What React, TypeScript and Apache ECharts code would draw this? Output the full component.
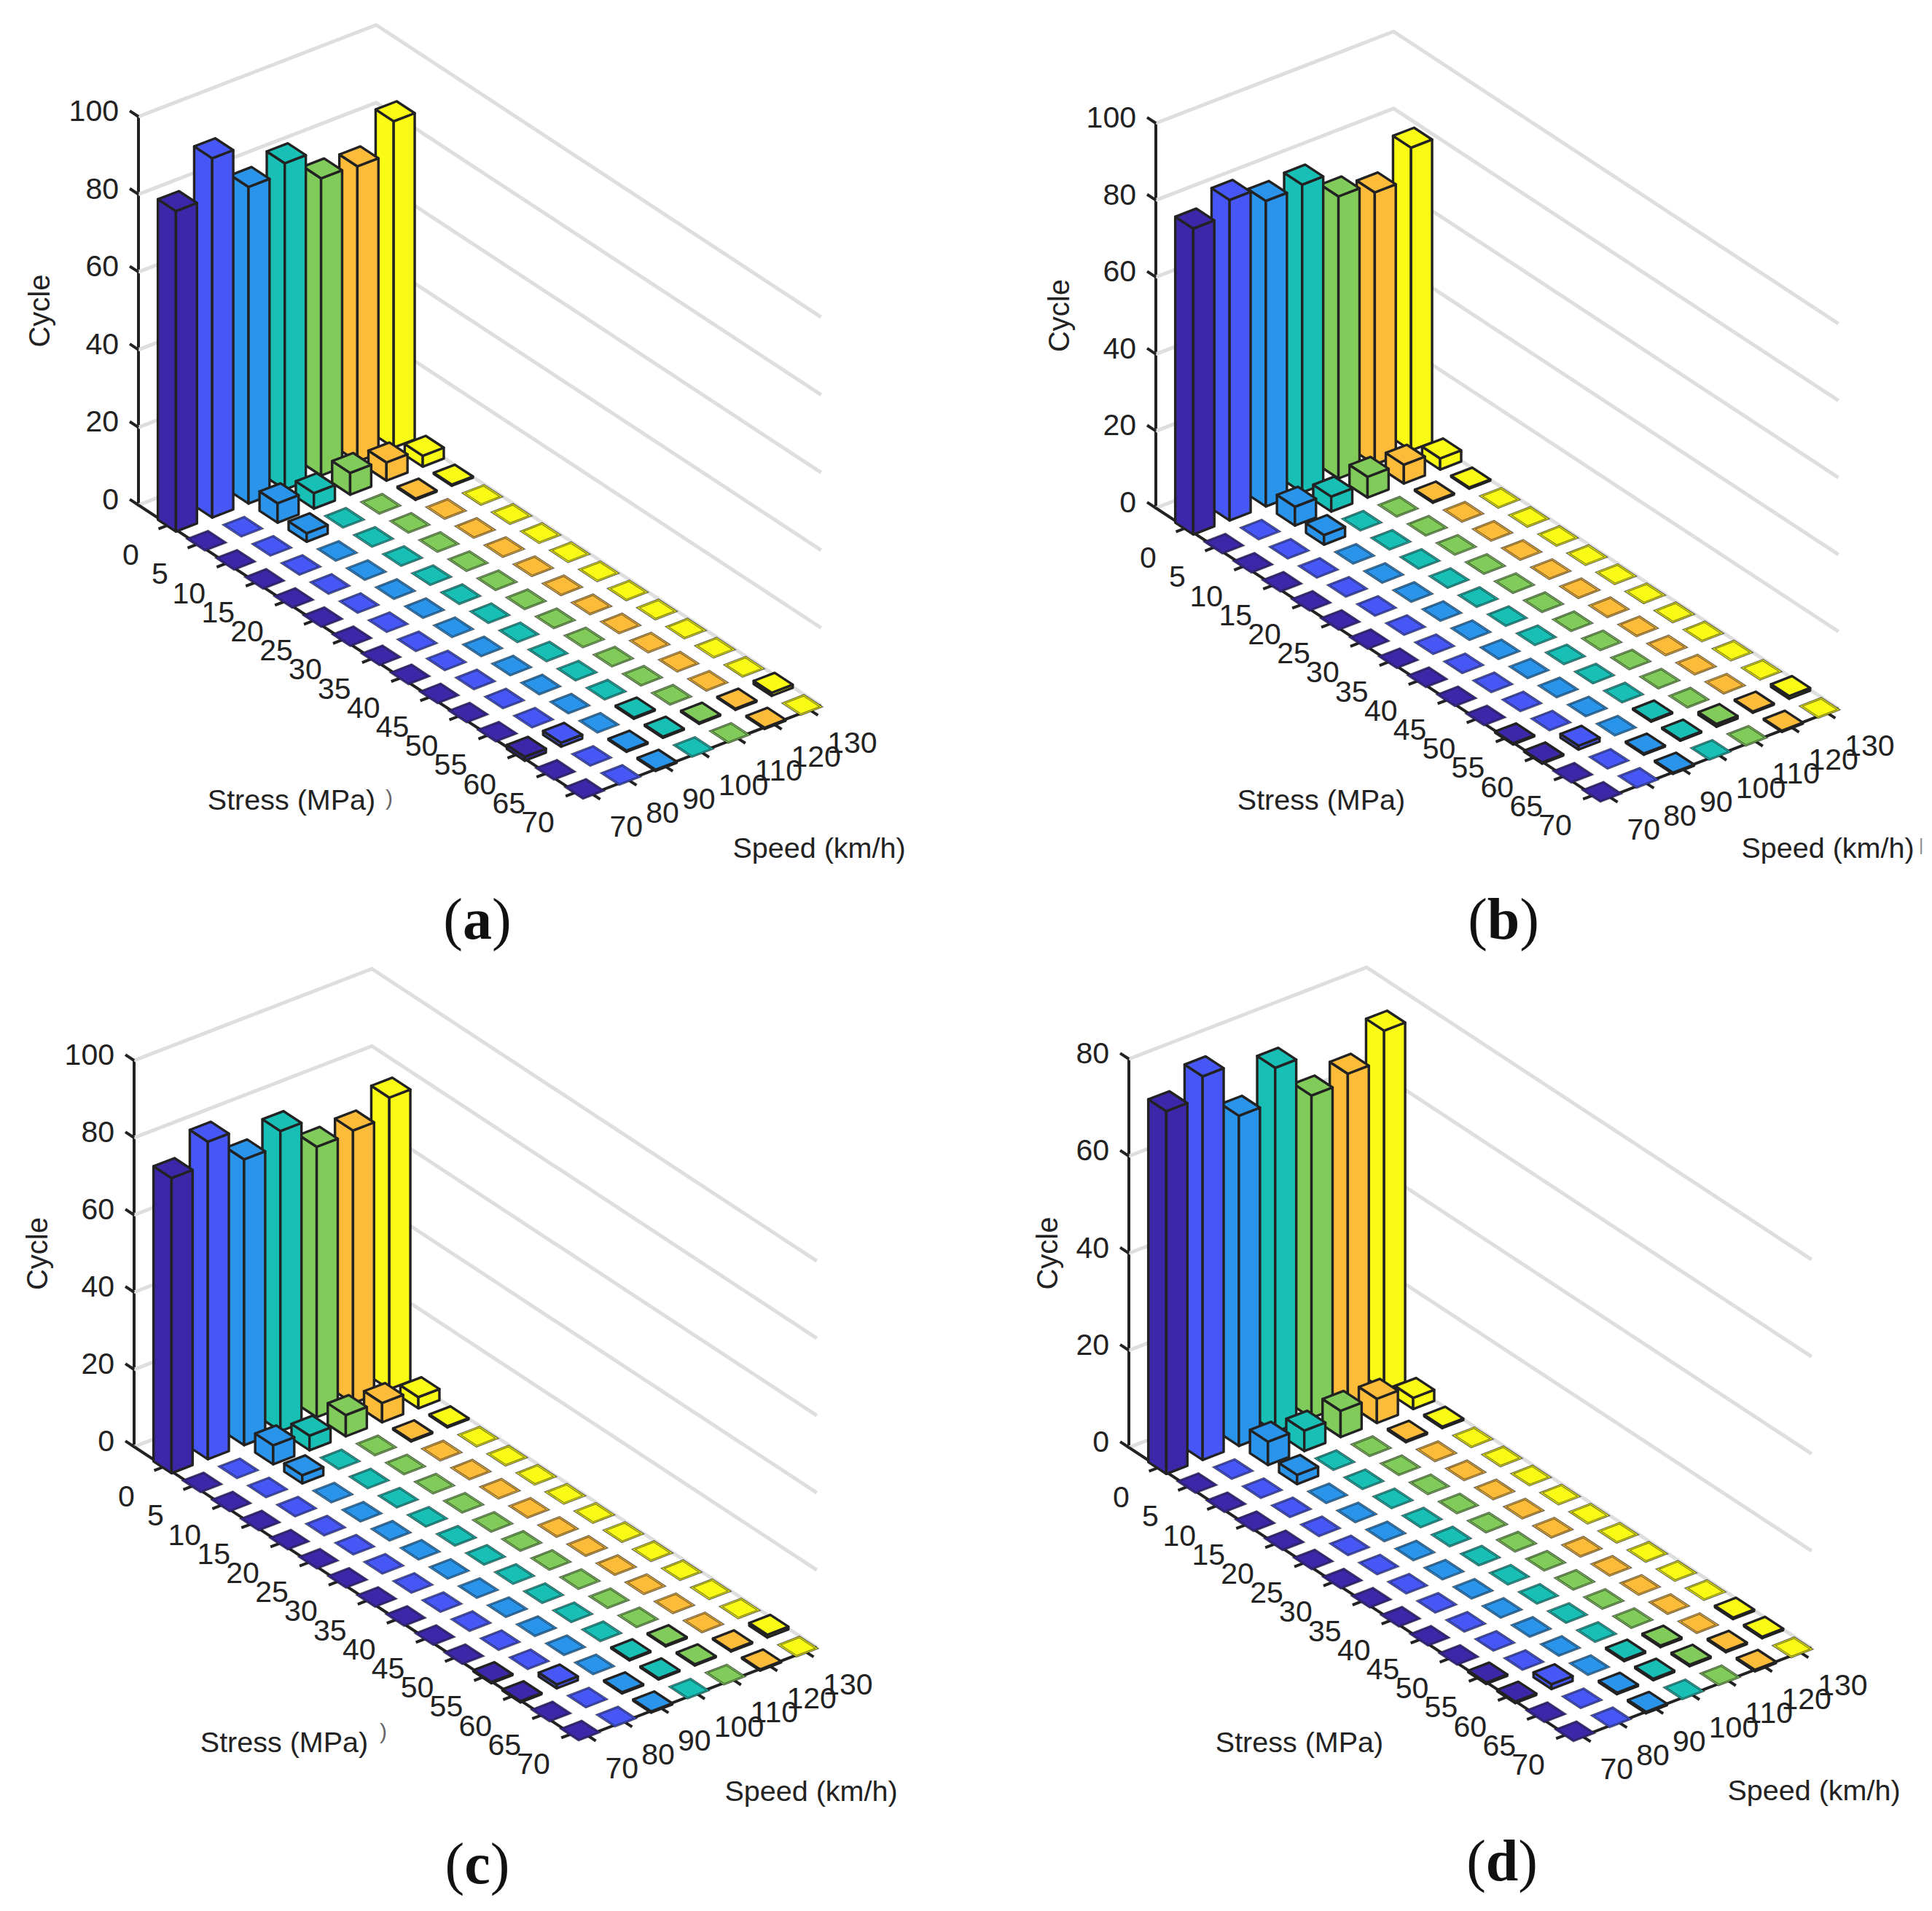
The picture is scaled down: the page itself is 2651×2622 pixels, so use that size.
import { useEffect, useRef } from "react"
import * as echarts from "echarts"

const stressLabels = ["0", "5", "10", "15", "20", "25", "30", "35", "40", "45", "50", "55", "60", "65", "70"]
const speedLabels = ["70", "80", "90", "100", "110", "120", "130"]
const speedColors = ["#3b27a7", "#4757f6", "#2a94ea", "#18bfb5", "#80cb5a", "#fdbb3a", "#f9fb14"]
const ticks100 = [0, 20, 40, 60, 80, 100]
const ticks80 = [0, 20, 40, 60, 80]

// rows = stress, columns = speed
const cyclesA = [
  [82.5, 92.5, 81.5, 84, 76.5, 76, 84],
  [0, 0, 5, 4, 5.6, 4.7, 2.8],
  [0, 0, 2.2, 0, 0, 0.3, 0.3],
  [0, 0, 0, 0, 0, 0, 0],
  [0, 0, 0, 0, 0, 0, 0],
  [0, 0, 0, 0, 0, 0, 0],
  [0, 0, 0, 0, 0, 0, 0],
  [0, 0, 0, 0, 0, 0, 0],
  [0, 0, 0, 0, 0, 0, 0],
  [0, 0, 0, 0, 0, 0, 0],
  [0, 0, 0, 0, 0, 0, 0],
  [0, 0, 0, 0, 0, 0, 0],
  [1, 1, 0, 0.3, 0, 0, 0],
  [0, 0, 0.3, 0.3, 0.3, 0.3, 0.8],
  [0, 0, 0.3, 0, 0, 0.3, 0],
]
const cyclesB = [
  [79.5, 83.3, 79.4, 80, 73.3, 70.7, 78.7],
  [0, 0, 4.9, 3.9, 5.4, 4.9, 2.9],
  [0, 0, 2.5, 0, 0, 0.3, 0.3],
  [0, 0, 0, 0, 0, 0, 0],
  [0, 0, 0, 0, 0, 0, 0],
  [0, 0, 0, 0, 0, 0, 0],
  [0, 0, 0, 0, 0, 0, 0],
  [0, 0, 0, 0, 0, 0, 0],
  [0, 0, 0, 0, 0, 0, 0],
  [0, 0, 0, 0, 0, 0, 0],
  [0, 0, 0, 0, 0, 0, 0],
  [0.3, 0, 0, 0, 0, 0, 0],
  [0.3, 1, 0, 0.3, 0, 0, 0],
  [0, 0, 0.3, 0.3, 0.7, 0.3, 0.7],
  [0, 0, 0.3, 0, 0, 0.3, 0],
]
const cyclesC = [
  [76.4, 82.2, 74, 77.7, 70, 70.6, 75.5],
  [0, 0, 4.9, 3.8, 5.5, 5, 2.9],
  [0, 0, 2.1, 0, 0, 0.3, 0.3],
  [0, 0, 0, 0, 0, 0, 0],
  [0, 0, 0, 0, 0, 0, 0],
  [0, 0, 0, 0, 0, 0, 0],
  [0, 0, 0, 0, 0, 0, 0],
  [0, 0, 0, 0, 0, 0, 0],
  [0, 0, 0, 0, 0, 0, 0],
  [0, 0, 0, 0, 0, 0, 0],
  [0, 0, 0, 0, 0, 0, 0],
  [0.3, 0, 0, 0, 0, 0, 0],
  [0.3, 1, 0, 0.3, 0.3, 0, 0],
  [0, 0, 0.3, 0.3, 0.3, 0.3, 0.7],
  [0, 0, 0.3, 0, 0, 0.3, 0],
]
const cyclesD = [
  [74.7, 79, 68, 75, 66.4, 68, 74],
  [0, 0, 4.8, 4.2, 5.4, 5, 2.3],
  [0, 0, 1.9, 0, 0, 0.3, 0.3],
  [0, 0, 0, 0, 0, 0, 0],
  [0, 0, 0, 0, 0, 0, 0],
  [0, 0, 0, 0, 0, 0, 0],
  [0, 0, 0, 0, 0, 0, 0],
  [0, 0, 0, 0, 0, 0, 0],
  [0, 0, 0, 0, 0, 0, 0],
  [0, 0, 0, 0, 0, 0, 0],
  [0, 0, 0, 0, 0, 0, 0],
  [0.3, 0, 0, 0, 0, 0, 0],
  [0.3, 1, 0, 0.3, 0.3, 0, 0.3],
  [0, 0, 0.3, 0.3, 0.3, 0.3, 0.3],
  [0, 0, 0.3, 0, 0, 0.3, 0],
]

type Panel = {
  letter: string
  cycles: number[][]
  ticks: number[]
  left: number
  base: number
  zPx: number
  nameGap: number
  stressAt: [number, number]
  speedAt: [number, number]
  titleAt: [number, number]
  stray?: { text: string; at: [number, number]; size: number; color: string }
}

const panels: Panel[] = [
  { letter: "a", cycles: cyclesA, ticks: ticks100, left: 190, base: 693, zPx: 533, nameGap: 116,
    stressAt: [400, 1097], speedAt: [1124, 1163], titleAt: [650, 1264],
    stray: { text: ")", at: [534, 1094], size: 30, color: "#666" } },
  { letter: "b", cycles: cyclesB, ticks: ticks100, left: 1586, base: 697, zPx: 528, nameGap: 113,
    stressAt: [1813, 1097], speedAt: [2508, 1163], titleAt: [2058, 1264],
    stray: { text: "|", at: [2636, 1158], size: 24, color: "#888" } },
  { letter: "c", cycles: cyclesC, ticks: ticks100, left: 184, base: 1985, zPx: 530, nameGap: 113,
    stressAt: [390, 2390], speedAt: [1113, 2457], titleAt: [650, 2560],
    stray: { text: ")", at: [526, 2375], size: 30, color: "#666" } },
  { letter: "d", cycles: cyclesD, ticks: ticks80, left: 1549, base: 1986, zPx: 533, nameGap: 92,
    stressAt: [1783, 2390], speedAt: [2489, 2456], titleAt: [2056, 2556] },
]

// oblique projection of the bar3 box, per stress/speed step in px
const stepS: [number, number] = [39.9, 26.2]
const stepV: [number, number] = [49.8, -19.2]
const spanS = 15.3
const spanV = 6.55
const firstS = 1.04
const firstV = 0.24
const halfS = 0.31
const halfV = 0.29
const flatGrow = 0.015
const ink = "#222222"
const font = "Liberation Sans"

function project(api: any, s: number, v: number, z: number) {
  const [x, y] = api.coord([s, z])
  return [x + v * stepV[0], y + s * stepS[1] + v * stepV[1]]
}

function seg(api: any, a: number[], b: number[], width = 4, color = ink) {
  return {
    type: "polyline",
    shape: { points: [project(api, a[0], a[1], a[2]), project(api, b[0], b[1], b[2])] },
    style: { stroke: color, lineWidth: width, fill: "none" },
  }
}

function label(pos: number[], text: string, align: string) {
  return {
    type: "text",
    x: pos[0],
    y: pos[1],
    style: { text, fill: ink, font: `41px "${font}"`, textAlign: align, textVerticalAlign: "middle" },
  }
}

function quad(api: any, corners: number[][], fill: string) {
  return {
    type: "polygon",
    shape: { points: corners.map((c) => project(api, c[0], c[1], c[2])) },
    style: { fill, stroke: ink, lineWidth: 3.4, lineJoin: "round" },
  }
}

function renderBar(_: any, api: any) {
  const i = api.value(0)
  const j = api.value(1)
  const h = api.value(2)
  const fill = speedColors[j]
  const s = firstS + i
  const v = firstV + j
  if (h === 0) {
    // empty cell: flat square with the doubled hairline of top and bottom
    const s0 = s - halfS - flatGrow
    const s1 = s + halfS + flatGrow
    const v0 = v - halfV - flatGrow
    const v1 = v + halfV + flatGrow
    const inset = 0.05
    return {
      type: "group",
      children: [
        {
          type: "polygon",
          shape: { points: [[s0, v0], [s0, v1], [s1, v1], [s1, v0]].map((c) => project(api, c[0], c[1], 0)) },
          style: { fill, stroke: "rgba(30,30,30,0.6)", lineWidth: 1.4 },
        },
        {
          type: "polygon",
          shape: {
            points: [[s0 + inset, v0 + inset], [s0 + inset, v1 - inset], [s1 - inset, v1 - inset], [s1 - inset, v0 + inset]].map((c) =>
              project(api, c[0], c[1], 0),
            ),
          },
          style: { fill: "none", stroke: "rgba(30,30,30,0.6)", lineWidth: 1.1 },
        },
      ],
    }
  }
  const s0 = s - halfS
  const s1 = s + halfS
  const v0 = v - halfV
  const v1 = v + halfV
  return {
    type: "group",
    children: [
      quad(api, [[s0, v0, 0], [s1, v0, 0], [s1, v0, h], [s0, v0, h]], fill),
      quad(api, [[s1, v0, 0], [s1, v1, 0], [s1, v1, h], [s1, v0, h]], fill),
      quad(api, [[s0, v0, h], [s0, v1, h], [s1, v1, h], [s1, v0, h]], fill),
    ],
  }
}

function seriesFor(gridIndex: number, p: Panel) {
  const common = { type: "custom", coordinateSystem: "cartesian2d", xAxisIndex: gridIndex, yAxisIndex: gridIndex, clip: false, silent: true }
  const cells: number[][] = []
  p.cycles.forEach((row, i) => {
    for (let j = row.length - 1; j >= 0; j--) cells.push([i, j, row[j]])
  })
  return [
    {
      ...common,
      name: `walls ${p.letter}`,
      data: p.ticks.map((t) => [0, t]),
      encode: { x: 0, y: 1 },
      renderItem: (_: any, api: any) => {
        const z = api.value(1)
        return {
          type: "polyline",
          shape: { points: [project(api, 0, 0, z), project(api, 0, spanV, z), project(api, spanS, spanV, z)] },
          style: { stroke: "#dedede", lineWidth: 5, fill: "none", lineJoin: "miter" },
        }
      },
    },
    {
      ...common,
      name: `z ticks ${p.letter}`,
      data: p.ticks.map((t) => [0, t]),
      encode: { x: 0, y: 1 },
      renderItem: (_: any, api: any) => {
        const z = api.value(1)
        return seg(api, [0, 0, z], [-0.3, 0, z])
      },
    },
    {
      ...common,
      name: `axes ${p.letter}`,
      data: [[0, 0]],
      encode: { x: 0, y: 1 },
      renderItem: (_: any, api: any) => ({
        type: "polyline",
        shape: { points: [project(api, 0, 0, 0), project(api, spanS, 0, 0), project(api, spanS, spanV, 0)] },
        style: { stroke: ink, lineWidth: 4, fill: "none" },
      }),
    },
    {
      ...common,
      name: `stress ${p.letter}`,
      data: stressLabels.map((_, i) => [i, 0]),
      encode: { x: 0, y: 1 },
      renderItem: (_: any, api: any) => {
        const i = api.value(0)
        const s = firstS + i
        const at = project(api, s, 0, 0)
        return {
          type: "group",
          children: [seg(api, [s, 0, 0], [s, -0.28, 0]), label([at[0] - 52, at[1] + 41], stressLabels[i], "center")],
        }
      },
    },
    {
      ...common,
      name: `speed ${p.letter}`,
      data: speedLabels.map((_, j) => [j, 0]),
      encode: { x: 0, y: 1 },
      renderItem: (_: any, api: any) => {
        const j = api.value(0)
        const v = firstV + j
        const at = project(api, spanS, v, 0)
        return {
          type: "group",
          children: [seg(api, [spanS, v, 0], [spanS + 0.28, v, 0]), label([at[0] + 24, at[1] + 45], speedLabels[j], "left")],
        }
      },
    },
    {
      ...common,
      name: `bars ${p.letter}`,
      data: cells,
      encode: { x: 0, y: 2 },
      renderItem: renderBar,
    },
  ]
}

function axisText(text: string, at: [number, number]) {
  return {
    type: "text",
    x: at[0],
    y: at[1],
    style: { text, fill: ink, font: `39.5px "${font}"`, textAlign: "center", textVerticalAlign: "middle" },
  }
}

export default function App() {
  const hostRef = useRef<HTMLDivElement>(null)

  useEffect(() => {
    const el = hostRef.current
    if (!el) return
    const chart = echarts.init(el, undefined, { renderer: "svg" })
    chart.setOption({
      animation: false,
      backgroundColor: "#ffffff",
      grid: panels.map((p) => ({
        left: p.left,
        top: p.base - p.zPx,
        width: spanS * stepS[0],
        height: p.zPx,
      })),
      xAxis: panels.map((_, k) => ({ type: "value", gridIndex: k, min: 0, max: spanS, show: false })),
      yAxis: panels.map((p, k) => ({
        type: "value",
        gridIndex: k,
        min: 0,
        max: p.ticks[p.ticks.length - 1],
        interval: 20,
        name: "Cycle",
        nameLocation: "middle",
        nameRotate: 90,
        nameGap: p.nameGap,
        nameTextStyle: { fontFamily: font, fontSize: 40, color: ink },
        axisLine: { show: true, onZero: false, lineStyle: { color: ink, width: 4 } },
        axisTick: { show: false },
        splitLine: { show: false },
        axisLabel: { fontFamily: font, fontSize: 41, color: ink, margin: 27, verticalAlign: "bottom", lineHeight: 16 },
      })),
      title: panels.map((p) => ({
        text: `{p|(}{b|${p.letter}}{p|)}`,
        left: p.titleAt[0],
        top: p.titleAt[1] - 48,
        textAlign: "center",
        textStyle: {
          rich: {
            p: { fontFamily: "Liberation Serif", fontSize: 80, fontWeight: "normal", color: "#111" },
            b: { fontFamily: "Liberation Serif", fontSize: 80, fontWeight: "bold", color: "#111" },
          },
        },
      })),
      graphic: panels.flatMap((p) => {
        const items: any[] = [axisText("Stress (MPa)", p.stressAt), axisText("Speed (km/h)", p.speedAt)]
        if (p.stray) {
          items.push({
            type: "text",
            x: p.stray.at[0],
            y: p.stray.at[1],
            style: { text: p.stray.text, fill: p.stray.color, font: `${p.stray.size}px "${font}"`, textAlign: "center", textVerticalAlign: "middle" },
          })
        }
        return items
      }),
      series: panels.flatMap((p, k) => seriesFor(k, p)),
    })
    return () => {
      chart.dispose()
    }
  }, [])

  return <div ref={hostRef} style={{ position: "absolute", left: 0, top: 0, width: 2651, height: 2622 }} />
}
